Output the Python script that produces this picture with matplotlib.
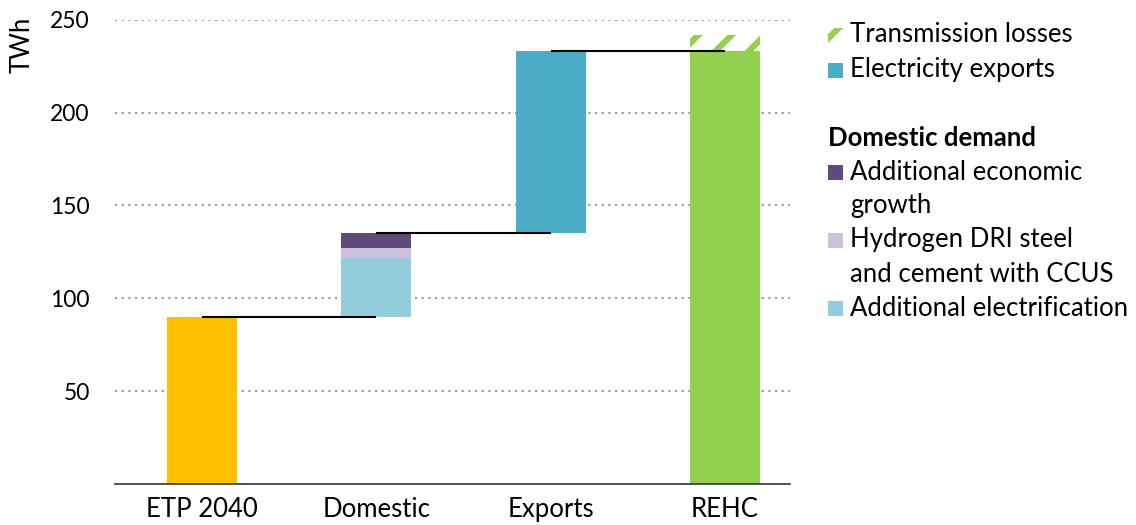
import matplotlib
matplotlib.use('Agg')
import matplotlib.pyplot as plt
from matplotlib.patches import Rectangle

plt.rcParams['font.family'] = ['Lato', 'DejaVu Sans']
plt.rcParams['hatch.linewidth'] = 4.5

# data (TWh)
categories = ['ETP 2040', 'Domestic', 'Exports', 'REHC']
etp_2040 = 90
add_electrification = 31.5
hydrogen_dri = 5.5
econ_growth = 8
elec_exports = 98
trans_losses = 9
yticks = [50, 100, 150, 200, 250]

c_etp = '#FFC000'
c_elec = '#92CDDC'
c_hyd = '#CCC0DA'
c_growth = '#604A7B'
c_exp = '#4BACC6'
c_rehc = '#92D050'

FS = 18.5

fig = plt.figure(figsize=(11.36, 5.25), dpi=100)
ax = fig.add_axes([0.101, 0.078, 0.594, 0.8845])

x = list(range(len(categories)))
w = 0.4

domestic_top = etp_2040 + add_electrification + hydrogen_dri + econ_growth
exports_top = domestic_top + elec_exports

ax.bar(x[0], etp_2040, w, color=c_etp, zorder=2)
ax.bar(x[1], add_electrification, w, bottom=etp_2040, color=c_elec, zorder=2)
ax.bar(x[1], hydrogen_dri, w, bottom=etp_2040 + add_electrification, color=c_hyd, zorder=2)
ax.bar(x[1], econ_growth, w, bottom=etp_2040 + add_electrification + hydrogen_dri,
       color=c_growth, zorder=2)
ax.bar(x[2], elec_exports, w, bottom=domestic_top, color=c_exp, zorder=2)
ax.bar(x[3], exports_top, w, color=c_rehc, zorder=2)
ax.bar(x[3], trans_losses, w, bottom=exports_top, facecolor='white', hatch='/',
       edgecolor=c_rehc, linewidth=0, zorder=2)

# connectors
levels = [etp_2040, domestic_top, exports_top]
for i, lv in enumerate(levels):
    ax.plot([x[i], x[i + 1]], [lv, lv], color='black', lw=1.5, zorder=3,
            solid_capstyle='butt')

ax.set_xlim(-0.5, 3.37)
ax.set_ylim(0, 250)
ax.set_yticks(yticks)
ax.yaxis.grid(True, color='#999999', linestyle=(0, (1, 2.2)), lw=1.5, zorder=0)
ax.set_axisbelow(True)
ax.set_xticks(x)
ax.set_xticklabels(categories)
ax.tick_params(axis='y', length=0, pad=18, labelsize=16.5)
ax.tick_params(axis='x', length=0, pad=9, labelsize=FS)
for s in ['left', 'right', 'top']:
    ax.spines[s].set_visible(False)
ax.spines['bottom'].set_color('#333333')
ax.spines['bottom'].set_linewidth(1.2)

fig.text(22 / 1136, 1 - 45 / 525, 'TWh', rotation=90, ha='center', va='center',
         fontsize=FS)

# legend
def px(xp, yp):
    return xp / 1136, 1 - yp / 525

def item(yp, color, lines, hatch=None):
    sx, sy = px(828, yp + 8)
    if hatch:
        r = Rectangle((sx, sy), 15 / 1136, 15 / 525, transform=fig.transFigure,
                      facecolor='white', edgecolor=color, lw=0, hatch=hatch)
    else:
        r = Rectangle((sx, sy), 15 / 1136, 15 / 525, transform=fig.transFigure,
                      facecolor=color, lw=0)
    fig.add_artist(r)
    for k, t in enumerate(lines):
        tx, ty = px(850, yp + k * 34)
        fig.text(tx, ty, t, ha='left', va='center', fontsize=FS)

item(35, c_rehc, ['Transmission losses'], hatch='/')
item(70, c_exp, ['Electricity exports'])
tx, ty = px(828, 138)
fig.text(tx, ty, 'Domestic demand', ha='left', va='center', fontsize=FS,
         fontweight='bold')
item(172, c_growth, ['Additional economic', 'growth'])
item(240, c_hyd, ['Hydrogen DRI steel', 'and cement with CCUS'])
item(308, c_elec, ['Additional electrification'])

fig.savefig('out.png', dpi=100)
